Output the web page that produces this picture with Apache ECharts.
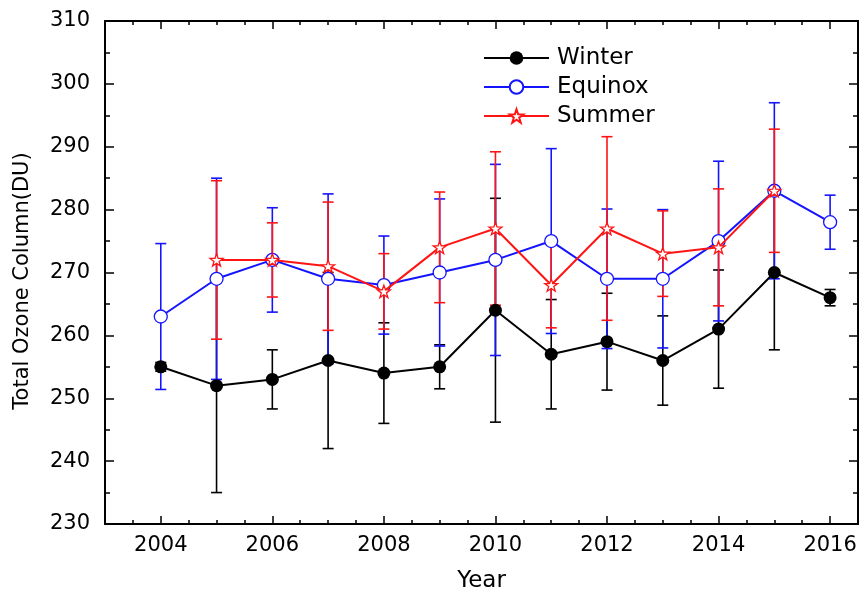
<!DOCTYPE html>
<html>
<head>
<meta charset="utf-8">
<script src="https://cdn.jsdelivr.net/npm/echarts@6/dist/echarts.min.js"></script>
<style>
html,body{margin:0;padding:0;background:#fff;}
#chart{width:863px;height:595px;}
</style>
</head>
<body>
<div id="chart"></div>
<script>
var years = [2004, 2005, 2006, 2007, 2008, 2009, 2010, 2011, 2012, 2013, 2014, 2015, 2016];
var majorYears = [2004, 2006, 2008, 2010, 2012, 2014, 2016];
var winter = [255, 252, 253, 256, 254, 255, 264, 257, 259, 256, 261, 270, 266];
var winterErr = [0.7, 17, 4.7, 14, 8, 3.5, 17.8, 8.7, 7.7, 7.1, 9.4, 12.3, 1.3];
var equinox = [263, 269, 272, 269, 268, 270, 272, 275, 269, 269, 275, 283, 278];
var equinoxErr = [11.6, 16, 8.3, 13.5, 7.8, 11.7, 15.2, 14.7, 11.1, 11, 12.7, 14, 4.3];
var summer = [null, 272, 272, 271, 267, 274, 277, 268, 277, 273, 274, 283, null];
var summerErr = [null, 12.6, 5.9, 10.2, 6, 8.8, 12.2, 6.8, 14.6, 6.8, 9.3, 9.8, null];

var FONT = 'DejaVu Sans';
var BLACK = '#000000', BLUE = '#1414ff', RED = '#ff1414';
var STAR = 'path://M0,-10 L2.35,-3.24 L9.51,-3.09 L3.8,1.24 L5.88,8.09 L0,4 L-5.88,8.09 L-3.8,1.24 L-9.51,-3.09 L-2.35,-3.24 Z';

function pts(vals) {
  return years.map(function (y, i) { return vals[i] == null ? [y, null] : [y, vals[i]]; });
}
function errPts(vals, errs) {
  var out = [];
  years.forEach(function (y, i) { if (vals[i] != null) out.push([y, vals[i], errs[i]]); });
  return out;
}
function errSeries(vals, errs, color, z) {
  return {
    type: 'custom', z: z, silent: true,
    data: errPts(vals, errs),
    renderItem: function (params, api) {
      var x = api.value(0), y = api.value(1), e = api.value(2);
      var t = api.coord([x, y + e]);
      var b = api.coord([x, y - e]);
      var w = 5.5;
      var st = { stroke: color, lineWidth: 1.6 };
      return {
        type: 'group',
        children: [
          { type: 'line', shape: { x1: t[0], y1: t[1], x2: b[0], y2: b[1] }, style: st },
          { type: 'line', shape: { x1: t[0] - w, y1: t[1], x2: t[0] + w, y2: t[1] }, style: st },
          { type: 'line', shape: { x1: b[0] - w, y1: b[1], x2: b[0] + w, y2: b[1] }, style: st }
        ]
      };
    }
  };
}

var chart = echarts.init(document.getElementById('chart'));
var axisLineStyle = { color: '#000', width: 2 };
chart.setOption({
  animation: false,
  backgroundColor: '#fff',
  grid: { left: 105, right: 5, top: 21, bottom: 71, containLabel: false, outerBoundsMode: 'none' },
  legend: {
    orient: 'vertical', left: 483, top: 46, padding: 0,
    itemWidth: 65, itemHeight: 17, itemGap: 5,
    data: ['Winter', 'Equinox', 'Summer'],
    textStyle: { fontFamily: FONT, fontSize: 23, color: '#000', lineHeight: 24, padding: [0, 0, 0, 3] }
  },
  xAxis: [
    {
      type: 'value', min: 2003, max: 2016.5, interval: 0.5, position: 'bottom',
      name: 'Year', nameLocation: 'middle', nameGap: 46,
      nameTextStyle: { fontFamily: FONT, fontSize: 23, color: '#000' },
      axisLine: { show: true, onZero: false, lineStyle: axisLineStyle },
      axisTick: { show: true, inside: true, length: 4, lineStyle: { color: '#000', width: 1.5 } },
      axisLabel: {
        fontFamily: FONT, fontSize: 21, color: '#000', margin: 11,
        formatter: function (v) { return (Math.abs(v % 2) < 1e-9) ? String(v) : ''; }
      },
      splitLine: { show: false }
    },
    {
      type: 'value', min: 2003, max: 2016.5, position: 'bottom',
      axisLine: { show: false },
      axisTick: { show: true, inside: true, length: 8, customValues: majorYears, lineStyle: { color: '#000', width: 1.5 } },
      axisLabel: { show: false }, splitLine: { show: false }
    },
    {
      type: 'value', min: 2003, max: 2016.5, interval: 0.5, position: 'top',
      axisLine: { show: true, onZero: false, lineStyle: axisLineStyle },
      axisTick: { show: true, inside: true, length: 4, lineStyle: { color: '#000', width: 1.5 } },
      axisLabel: { show: false }, splitLine: { show: false }
    },
    {
      type: 'value', min: 2003, max: 2016.5, position: 'top',
      axisLine: { show: false },
      axisTick: { show: true, inside: true, length: 8, customValues: majorYears, lineStyle: { color: '#000', width: 1.5 } },
      axisLabel: { show: false }, splitLine: { show: false }
    }
  ],
  yAxis: [
    {
      type: 'value', min: 230, max: 310, interval: 10, position: 'left',
      name: 'Total Ozone Column(DU)', nameLocation: 'middle', nameGap: 72, nameRotate: 90,
      nameTextStyle: { fontFamily: FONT, fontSize: 21, color: '#000', padding: [0, 17, 0, 0] },
      axisLine: { show: true, onZero: false, lineStyle: axisLineStyle },
      axisTick: { show: true, inside: true, length: 9, lineStyle: { color: '#000', width: 1.5 } },
      minorTick: { show: true, splitNumber: 2, length: 5, lineStyle: { color: '#000', width: 1.5 } },
      axisLabel: { fontFamily: FONT, fontSize: 21, color: '#000', margin: 15 },
      splitLine: { show: false }
    },
    {
      type: 'value', min: 230, max: 310, interval: 10, position: 'right',
      axisLine: { show: true, onZero: false, lineStyle: axisLineStyle },
      axisTick: { show: true, inside: true, length: 9, lineStyle: { color: '#000', width: 1.5 } },
      minorTick: { show: true, splitNumber: 2, length: 5, lineStyle: { color: '#000', width: 1.5 } },
      axisLabel: { show: false }, splitLine: { show: false }
    }
  ],
  series: [
    errSeries(winter, winterErr, BLACK, 1),
    errSeries(equinox, equinoxErr, BLUE, 2),
    errSeries(summer, summerErr, RED, 3),
    {
      name: 'Winter', type: 'line', z: 5, data: pts(winter),
      symbol: 'circle', symbolSize: 13,
      lineStyle: { color: BLACK, width: 2 },
      itemStyle: { color: BLACK }
    },
    {
      name: 'Equinox', type: 'line', z: 6, data: pts(equinox),
      symbol: 'circle', symbolSize: 13,
      lineStyle: { color: BLUE, width: 2 },
      itemStyle: { color: '#ffffff', borderColor: BLUE, borderWidth: 1.3 }
    },
    {
      name: 'Summer', type: 'line', z: 7, data: pts(summer), connectNulls: false,
      symbol: STAR, symbolSize: 13, symbolKeepAspect: true,
      lineStyle: { color: RED, width: 2 },
      itemStyle: { color: '#ffffff', borderColor: RED, borderWidth: 1.3 }
    }
  ]
});
</script>
</body>
</html>
